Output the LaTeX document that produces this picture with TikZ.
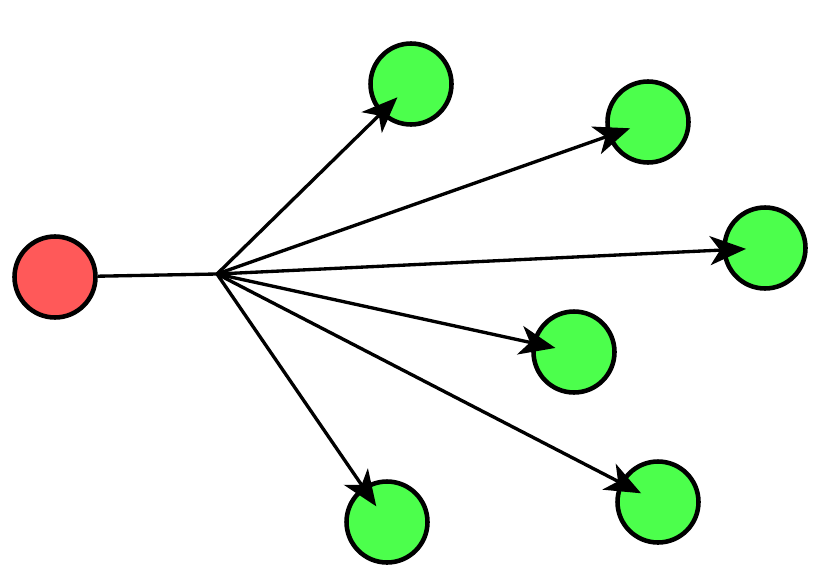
\documentclass[tikz,border=0pt]{standalone}
\usetikzlibrary{arrows.meta}
\begin{document}
\begin{tikzpicture}[x=0.02cm,y=-0.02cm,
    dot/.style={circle,draw=black,line width=2.6pt,minimum size=1.62cm,inner sep=0pt},
    src/.style={dot,fill=red!65!white},
    dst/.style={dot,fill=green!70!white},
    edge/.style={line width=1.9pt},
    ray/.style={edge,-{Stealth[length=0.72cm,width=0.58cm,inset=0.2cm]},shorten >=0.38cm}]
      \useasboundingbox (0,0) rectangle (820,581);
      
      %source
      \node[src] (s) at (55,277) {};
      \coordinate (b) at (217,274);
      
      %targets
      \node[dst] (t1) at (411,84) {};
      \node[dst] (t2) at (648,122) {};
      \node[dst] (t3) at (765,248) {};
      \node[dst] (t4) at (574,352) {};
      \node[dst] (t5) at (658,502) {};
      \node[dst] (t6) at (387,522) {};
      
      \draw[edge] (s) -- (b);
      \foreach \t in {t1,t2,t3,t4,t5,t6}  {
      	\draw[ray] (b) -- (\t.center);
      }
      
\end{tikzpicture}
\end{document}
